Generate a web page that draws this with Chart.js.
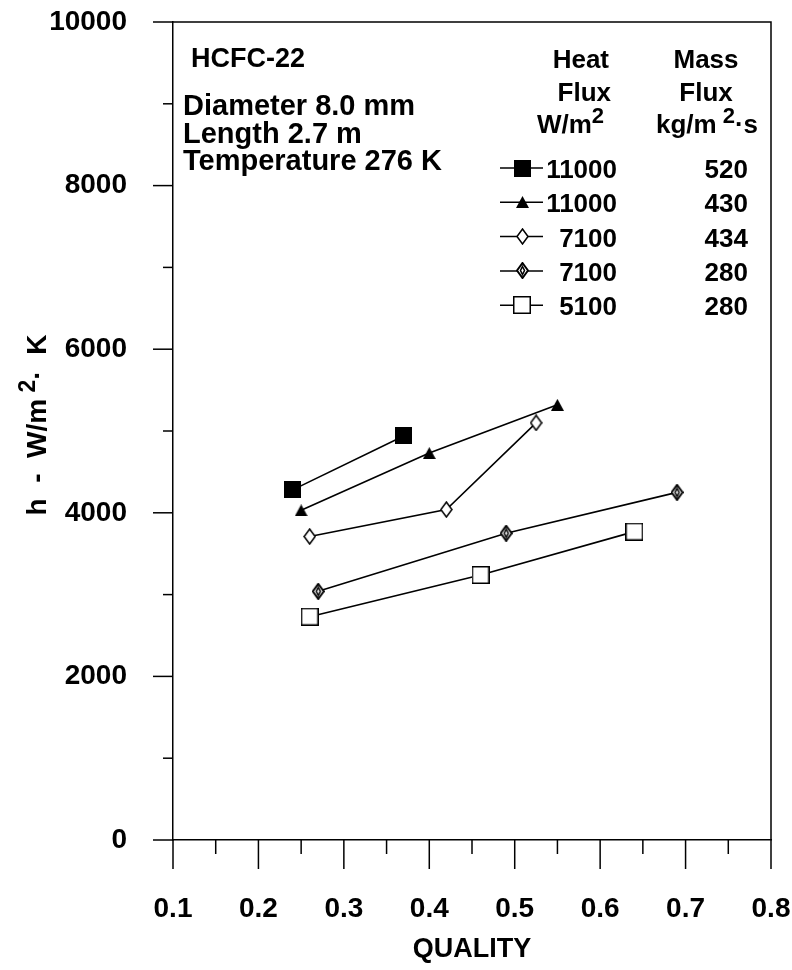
<!DOCTYPE html>
<html>
<head>
<meta charset="utf-8">
<script src="https://cdn.jsdelivr.net/npm/chart.js@4.4.0/dist/chart.umd.min.js"></script>
<style>
  html, body { margin: 0; padding: 0; background: #fff; }
</style>
</head>
<body>
<canvas id="chart" width="792" height="970"></canvas>
<script>
// HCFC-22 heat transfer coefficient vs quality

const FONT = '"Liberation Sans", Arial, Helvetica, sans-serif';

// legend columns
const heatFlux = ['11000', '11000', '7100', '7100', '5100'];
const massFlux = ['520', '430', '434', '280', '280'];

// series values (quality, h in W/m2.K)
const qualityA = [0.24, 0.37];
const hA       = [4280, 4940];
const qualityB = [0.25, 0.40, 0.55];
const hB       = [4030, 4730, 5320];
const qualityC = [0.26, 0.42, 0.525];
const hC       = [3710, 4040, 5100];
const qualityD = [0.27, 0.49, 0.69];
const hD       = [3040, 3750, 4250];
const qualityE = [0.26, 0.46, 0.64];
const hE       = [2730, 3240, 3770];

const xTicks = [0.1, 0.2, 0.3, 0.4, 0.5, 0.6, 0.7, 0.8];
const yTicks = [0, 2000, 4000, 6000, 8000, 10000];

const notes = ['Diameter 8.0 mm', 'Length 2.7 m', 'Temperature 276 K'];

// little canvases used as point styles
function marker(w, h, paint) {
  const c = document.createElement('canvas');
  c.width = w; c.height = h;
  paint(c.getContext('2d'), w, h);
  return c;
}
function diamondPath(g, w, h, inset) {
  g.beginPath();
  g.moveTo(w / 2, inset);
  g.lineTo(w - inset, h / 2);
  g.lineTo(w / 2, h - inset);
  g.lineTo(inset, h / 2);
  g.closePath();
}

const MARKERS = [
  marker(17, 17, (g, w, h) => { g.fillStyle = '#000'; g.fillRect(0, 0, w, h); }),
  marker(13, 12, (g, w, h) => {
    g.fillStyle = '#000';
    g.beginPath(); g.moveTo(w / 2, 0); g.lineTo(w, h); g.lineTo(0, h); g.closePath(); g.fill();
  }),
  marker(13, 17, (g, w, h) => {
    diamondPath(g, w, h, 1);
    g.fillStyle = '#fff'; g.fill();
    g.strokeStyle = '#000'; g.lineWidth = 1.5; g.stroke();
  }),
  marker(13, 17, (g, w, h) => {
    diamondPath(g, w, h, 1);
    g.fillStyle = '#fff'; g.fill();
    g.strokeStyle = '#000'; g.lineWidth = 2; g.stroke();
    diamondPath(g, w, h, 4.5);
    g.lineWidth = 1.5; g.stroke();
  }),
  marker(18, 18, (g, w, h) => {
    g.fillStyle = '#fff'; g.fillRect(0, 0, w, h);
    g.strokeStyle = '#000'; g.lineWidth = 1.5; g.strokeRect(0.75, 0.75, w - 1.5, h - 1.5);
  })
];

const SERIES = [
  [qualityA, hA], [qualityB, hB], [qualityC, hC], [qualityD, hD], [qualityE, hE]
];

const datasets = SERIES.map(([xs, ys], i) => ({
  label: heatFlux[i] + ' / ' + massFlux[i],
  data: xs.map((x, k) => ({ x, y: ys[k] })),
  showLine: true,
  borderColor: '#000',
  borderWidth: 1.6,
  pointStyle: MARKERS[i],
  pointRadius: 8
}));

// text made of runs, so the superscript 2 can be raised
function drawRuns(ctx, runs, x, y, align) {
  const widths = runs.map(r => { ctx.font = 'bold ' + r.size + 'px ' + FONT; return ctx.measureText(r.t).width; });
  const total = widths.reduce((a, b) => a + b, 0);
  let cx = align === 'right' ? x - total : align === 'center' ? x - total / 2 : x;
  ctx.textAlign = 'left';
  runs.forEach((r, i) => {
    ctx.font = 'bold ' + r.size + 'px ' + FONT;
    ctx.fillText(r.t, cx, y - (r.rise || 0));
    cx += widths[i];
  });
}

// tick marks, frame, notes, axis title and legend
const decorations = {
  id: 'decorations',
  afterDraw(chart) {
    const { ctx, chartArea: a, scales: { x, y } } = chart;
    ctx.save();
    ctx.strokeStyle = '#000';
    ctx.lineWidth = 1.5;

    // top and right frame
    ctx.beginPath();
    ctx.moveTo(a.left, a.top); ctx.lineTo(a.right, a.top); ctx.lineTo(a.right, a.bottom);
    ctx.stroke();

    // y ticks, major every 2000, minor every 1000
    for (let v = 0; v <= 10000; v += 1000) {
      const py = y.getPixelForValue(v);
      const len = v % 2000 === 0 ? 20 : 10;
      ctx.beginPath(); ctx.moveTo(a.left - len, py); ctx.lineTo(a.left, py); ctx.stroke();
    }
    // x ticks, major every 0.1, minor every 0.05
    for (let k = 2; k <= 16; k++) {
      const px = x.getPixelForValue(k * 0.05);
      const len = k % 2 === 0 ? 29 : 14;
      ctx.beginPath(); ctx.moveTo(px, a.bottom); ctx.lineTo(px, a.bottom + len); ctx.stroke();
    }

    ctx.fillStyle = '#000';
    ctx.textBaseline = 'alphabetic';

    // y axis title, rotated
    ctx.save();
    ctx.translate(46, 425);
    ctx.rotate(-Math.PI / 2);
    drawRuns(ctx, [
      { t: 'h  -  W/m', size: 28 },
      { t: ' 2', size: 23, rise: 11 },
      { t: '·  K', size: 28 }
    ], 0, 0, 'center');
    ctx.restore();

    // notes top left
    ctx.textAlign = 'left';
    ctx.font = 'bold 27px ' + FONT;
    ctx.fillText('HCFC-22', a.left + 18, 67);
    ctx.font = 'bold 29px ' + FONT;
    notes.forEach((t, i) => ctx.fillText(t, a.left + 10, 115 + i * 27.5));

    // legend headers
    ctx.font = 'bold 26px ' + FONT;
    ctx.textAlign = 'right';
    ctx.fillText('Heat', 609, 68);
    ctx.fillText('Flux', 611, 101);
    drawRuns(ctx, [{ t: 'W/m', size: 26 }, { t: '2', size: 22, rise: 10 }], 604, 133, 'right');
    ctx.font = 'bold 26px ' + FONT;
    ctx.textAlign = 'center';
    ctx.fillText('Mass', 706, 68);
    ctx.fillText('Flux', 706, 101);
    drawRuns(ctx, [{ t: 'kg/m', size: 26 }, { t: ' 2', size: 22, rise: 10 }, { t: '·s', size: 26 }], 707, 133, 'center');

    // legend rows
    ctx.font = 'bold 26px ' + FONT;
    SERIES.forEach((s, i) => {
      const ry = 168 + i * 34.3;
      ctx.beginPath(); ctx.moveTo(500, ry); ctx.lineTo(543, ry); ctx.stroke();
      const m = MARKERS[i];
      ctx.drawImage(m, Math.round(522 - m.width / 2), Math.round(ry - m.height / 2));
      ctx.textAlign = 'right';
      ctx.fillText(heatFlux[i], 617, ry + 10);
      ctx.fillText(massFlux[i], 748, ry + 10);
    });
    ctx.restore();
  }
};

new Chart(document.getElementById('chart'), {
  type: 'scatter',
  data: { datasets },
  plugins: [decorations],
  options: {
    responsive: false,
    animation: false,
    layout: { padding: { top: 22, right: 21, left: 0, bottom: 0 } },
    plugins: { legend: { display: false }, tooltip: { enabled: false } },
    scales: {
      x: {
        type: 'linear', min: 0.1, max: 0.8,
        afterFit: s => { s.height = 130; s.paddingLeft = 0; s.paddingRight = 0; },
        afterBuildTicks: s => { s.ticks = xTicks.map(value => ({ value })); },
        grid: { drawOnChartArea: false, drawTicks: false },
        border: { display: true, color: '#000', width: 1.5 },
        ticks: {
          color: '#000', padding: 52, maxRotation: 0,
          font: { family: FONT, size: 28, weight: 'bold' },
          callback: v => v.toFixed(1)
        },
        title: {
          display: true, text: 'QUALITY', color: '#000',
          font: { family: FONT, size: 27, weight: 'bold' },
          padding: { top: 0, bottom: 4 }
        }
      },
      y: {
        type: 'linear', min: 0, max: 10000,
        afterFit: s => { s.width = 173; s.paddingTop = 0; s.paddingBottom = 0; },
        afterBuildTicks: s => { s.ticks = yTicks.map(value => ({ value })); },
        grid: { drawOnChartArea: false, drawTicks: false },
        border: { display: true, color: '#000', width: 1.5 },
        ticks: {
          color: '#000', padding: 46,
          font: { family: FONT, size: 28, weight: 'bold' },
          callback: v => String(v)
        },
        title: { display: false }
      }
    }
  }
});
</script>
</body>
</html>
